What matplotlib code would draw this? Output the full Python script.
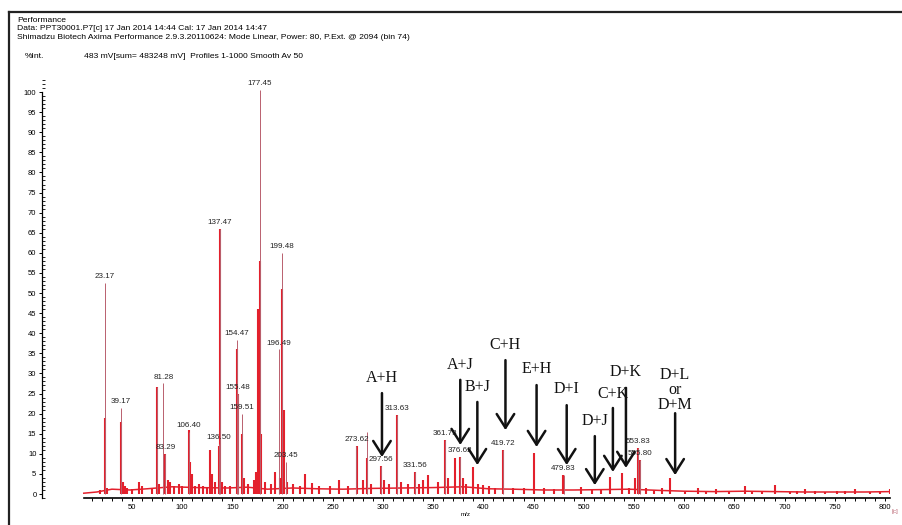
import matplotlib
matplotlib.use('Agg')
import matplotlib.pyplot as plt
from matplotlib.lines import Line2D
from matplotlib.ticker import MultipleLocator, FixedLocator

# profile peaks (red), m/z and % intensity
profile_mz = [18, 23.2, 25, 39.2, 41, 43, 45, 50, 57, 60, 70, 74.5, 77, 83.3, 86, 88, 92, 97, 100,
              106.4, 108, 110, 113, 117, 121, 125, 128, 130, 133, 136.5, 137.5, 140, 143, 148,
              154.5, 156, 159.5, 162, 166, 172, 174, 176, 177.5, 179, 183, 188,
              192, 197, 199.5, 201, 204, 210, 217, 222, 229, 236, 247, 256, 265, 274, 280, 284,
              288, 297.6, 301, 306, 313.6, 318, 325, 331.6, 336, 340, 345, 355, 361.7, 365, 372,
              376.6, 380, 383, 390, 395, 400, 406, 412, 419.7, 430, 440, 450, 460, 470,
              479.8, 497, 508, 517, 526, 538, 545, 551, 553.8, 555.8, 562, 570, 578, 586, 601,
              614, 622, 632, 645, 661, 668, 678, 690, 705, 712, 720, 730, 740, 752, 760, 770,
              785, 795, 805]
profile_int = [1.0, 19, 1.5, 18, 3, 2, 1.5, 1.2, 3, 2, 1.5, 26.5, 2.5, 10, 3.5, 3, 2, 2.5, 2,
               16, 8, 5, 2, 2.5, 2, 1.8, 11, 5, 3, 12, 66, 3, 2, 2,
               36, 25, 15, 4, 2.5, 3.5, 5.5, 46, 58, 15, 3, 2.5,
               5.5, 4, 51, 21, 3, 2.5, 2, 5, 2.7, 2, 2, 3.5, 2, 12, 3.5, 9,
               2.5, 7, 3.5, 2.5, 19.6, 3, 2.5, 5.5, 2.5, 3.5, 4.7, 3, 13.4, 4, 9,
               9.2, 4, 2.5, 6.7, 2.5, 2.3, 2, 1.5, 11, 1.5, 1.5, 10.2, 1.5, 1.2,
               4.7, 1.7, 1.2, 1.2, 4.2, 5.2, 1.5, 4, 11.4, 8.5, 1.5, 1, 1.5, 4, 0.8,
               1.5, 0.8, 1.2, 0.8, 2, 0.8, 0.8, 2.3, 0.6, 0.8, 1.3, 0.8, 0.6, 0.7, 0.8, 1.2,
               0.6, 0.7, 1.3]

# centroid markers with labels
label_mz = [23.17, 39.17, 81.28, 83.29, 106.40, 136.50, 137.47, 154.47, 155.48, 159.51,
            177.45, 196.49, 199.48, 203.45, 273.62, 297.56, 313.63, 331.56, 361.73, 376.62,
            419.72, 479.83, 553.83, 555.80]
label_int = [52.5, 21.5, 27.5, 10, 15.5, 12.5, 66, 38.3, 25, 20,
             100.5, 36, 60, 8, 12, 7, 19.6, 5.5, 13.4, 9.2,
             11, 4.7, 11.4, 8.5]
extra_mz = [74.5, 284]
extra_int = [26.5, 15.4]

# baseline noise
noise_mz = [2, 15, 30, 48, 65, 90, 115, 145, 165, 185, 210, 235, 260, 290, 320, 350,
            380, 405, 430, 460, 490, 520, 545, 575, 600, 630, 660, 690, 720, 750, 780, 805]
noise_int = [0.2, 0.5, 1.2, 1.0, 1.3, 1.8, 1.6, 1.5, 1.7, 1.2, 1.5, 1.3, 1.2, 1.4, 1.5, 1.6,
             1.8, 1.3, 1.2, 1.0, 1.0, 1.1, 1.2, 0.9, 0.7, 0.6, 0.7, 0.6, 0.5, 0.5, 0.5, 0.6]

# annotation arrows: text, arrow m/z, text y, tail y, tip y
arrow_text = ['A+H', 'A+J', 'B+J', 'C+H', 'E+H', 'D+I', 'D+J', 'C+K', 'D+K', 'D+L\nor\nD+M']
arrow_mz = [299, 377, 394, 422, 453, 483, 511, 529, 542, 591]
arrow_text_y = [26.9, 30.1, 24.6, 35.1, 29.1, 24.1, 16.2, 22.9, 28.4, 25.9]
arrow_tail_y = [25.1, 28.4, 22.9, 33.3, 27.1, 22.1, 14.4, 21.4, 26.4, 20.1]
arrow_tip_y = [9.2, 12.2, 7.2, 15.9, 11.7, 7.2, 2.2, 5.5, 6.5, 4.7]

header = ['Performance',
          'Data: PPT30001.P7[c] 17 Jan 2014 14:44 Cal: 17 Jan 2014 14:47',
          'Shimadzu Biotech Axima Performance 2.9.3.20110624: Mode Linear, Power: 80, P.Ext. @ 2094 (bin 74)']

plt.rcParams['font.family'] = ['Liberation Sans', 'DejaVu Sans']
W, H = 902, 525
fig = plt.figure(figsize=(W / 100, H / 100), dpi=100)
ax = fig.add_axes([42 / W, (H - 500) / H, (890 - 42) / W, 420 / H])
ax.set_xlim(-39.6, 805)
ax.set_ylim(-1.49, 103.0)

red = '#e3202c'
pink = '#b9606e'
ax.plot(noise_mz, noise_int, color=red, lw=1.1)
ax.vlines(profile_mz, 0, profile_int, color=red, lw=1.5)
ax.vlines(label_mz, 0, label_int, color=pink, lw=0.7)
ax.vlines(extra_mz, 0, extra_int, color=pink, lw=0.7)
for m, v in zip(label_mz, label_int):
    ax.annotate('%.2f' % m, (m, v), xytext=(0, 2), textcoords='offset points',
                ha='center', va='bottom', fontsize=5.8, color='#222222')

for t, m, ty, y0, y1 in zip(arrow_text, arrow_mz, arrow_text_y, arrow_tail_y, arrow_tip_y):
    ax.text(m, ty, t, ha='center', va='bottom' if '\n' not in t else 'center',
            fontsize=11.5, family='Liberation Serif', color='#111111', linespacing=0.95)
    ax.annotate('', xy=(m, y1), xytext=(m, y0),
                arrowprops=dict(arrowstyle='->,head_length=0.55,head_width=0.35',
                                lw=1.8, color='#111111', mutation_scale=18,
                                shrinkA=0, shrinkB=0))

for s in ['top', 'right']:
    ax.spines[s].set_visible(False)
ax.spines['bottom'].set_position(('data', -1))
ax.spines['bottom'].set_bounds(2, 805)
ax.spines['left'].set_bounds(-1, 100)
ax.spines['bottom'].set_linewidth(1.2)
ax.spines['left'].set_linewidth(0.9)

ax.yaxis.set_major_locator(MultipleLocator(5))
ax.yaxis.set_minor_locator(MultipleLocator(1))
ax.set_xticks([x for x in range(50, 801, 50)])
ax.xaxis.set_minor_locator(FixedLocator([x for x in range(10, 801, 10)]))
ax.tick_params(axis='y', which='major', direction='out', length=2.5, width=0.7, labelsize=5.5, pad=1.5)
ax.tick_params(axis='y', which='minor', direction='in', length=2, width=0.6)
ax.tick_params(axis='x', which='both', direction='out', length=2, width=0.7, labelsize=5.5, pad=2)
ax.set_xlabel('m/z', fontsize=4.5, labelpad=1)

# header text
for i, line in enumerate(header):
    fig.text(17 / W, 1 - (20 + 8.6 * i) / H, line, fontsize=6.1, va='center', ha='left')
fig.text(25 / W, 1 - 57 / H, '%Int.', fontsize=6.1, va='center', ha='left')
fig.text(84 / W, 1 - 57 / H, '483 mV[sum= 483248 mV]  Profiles 1-1000 Smooth Av 50',
         fontsize=6.1, va='center', ha='left')
fig.text(892 / W, 1 - 511 / H, '[c]', fontsize=4.5, color=pink, va='center', ha='left')

# frame of the screenshot
fig.add_artist(Line2D([9 / W, 1], [1 - 12 / H, 1 - 12 / H], color='#222222', lw=1.6))
fig.add_artist(Line2D([9 / W, 9 / W], [0, 1 - 12 / H], color='#222222', lw=1.6))

fig.savefig('out.png', dpi=100)
